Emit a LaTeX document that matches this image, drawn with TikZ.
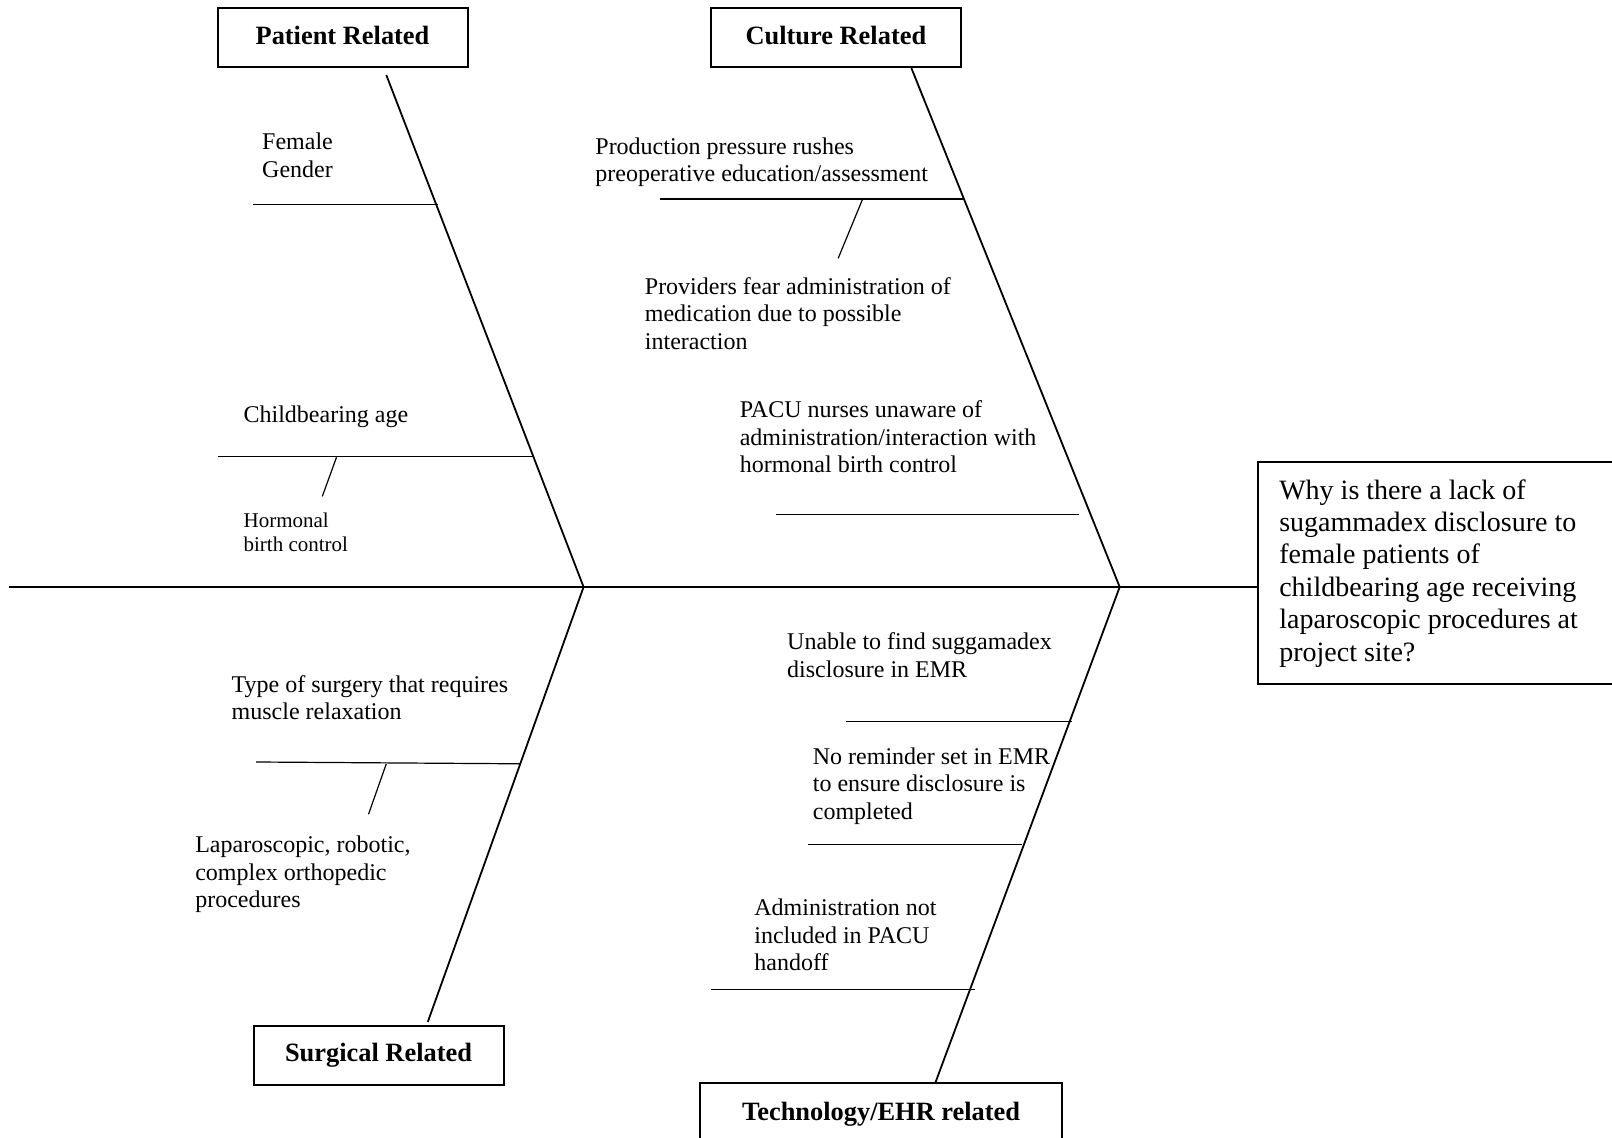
\documentclass[tikz,border=0pt]{standalone}
\usepackage{fontspec}
\setmainfont{Liberation Serif}
\tikzstyle{block} = [draw, fill=white, rectangle, line width=1pt, minimum width=125pt, minimum height=29.5pt, text height=0.7em, text depth=0.07em, font=\bfseries\fontsize{13.2}{15.2}\selectfont]
\tikzstyle{question} = [draw, fill=white, rectangle, line width=1pt, anchor=north west, inner xsep=10.5pt, inner ysep=8.7pt, font=\fontsize{14}{16.2}\selectfont]
\tikzstyle{cause} = [anchor=north west, inner sep=0pt, align=left, font=\fontsize{12}{13.8}\selectfont]
\tikzstyle{subcause} = [cause, font=\fontsize{10.5}{11.9}\selectfont]
\tikzstyle{spine} = [line width=1.15pt]
\tikzstyle{bone} = [line width=0.9pt]
\tikzstyle{rib} = [line width=0.6pt]

\begin{document}
\begin{tikzpicture}[x=0.5pt, y=-0.5pt]
    \useasboundingbox (0,0) rectangle (1612,1138);

    % category boxes and the problem
    \node [block] (patient) at (342.5,37.9) {Patient Related};
    \node [block] (culture) at (835.9,37.9) {Culture Related};
    \node [block] (surgical) at (378.5,1055.4) {Surgical Related};
    \node [block, minimum width=181.3pt, minimum height=30.3pt] (tech) at (881.1,1113.7) {Technology/EHR related};
    \node [question] (problem) at (1257.3,461) {\parbox[c][93.6pt][t]{200pt}{Why is there a lack of\\
        sugammadex disclosure to\\ female patients of\\ childbearing age receiving\\
        laparoscopic procedures at\\ project site?}};

    % spine and bones
    \coordinate (tail) at (8.7,587);
    \coordinate (pj) at (583.6,587);
    \coordinate (cj) at (1119.7,587);
    \coordinate (ptop) at (386.3,75);
    \coordinate (ctop) at (911.4,68.1);
    \coordinate (sbot) at (427.8,1021.9);
    \coordinate (tbot) at (935.1,1083.4);
    \draw [spine] (tail) -- (problem.west |- pj);
    \draw [bone] (ptop) -- (pj) -- (sbot);
    \draw [bone] (ctop) -- (cj) -- (tbot);

    % patient related
    \node [cause] (female) at (261.8,132.5) {Female\\Gender};
    \draw [rib] (253,204.7) -- (438,204.7);
    \node [cause] (childage) at (243.2,405.8) {Childbearing age};
    \draw [rib] (217.5,456.6) -- (533.8,456.6);
    \draw [rib] (336.5,457.3) -- (322.3,496.4);
    \node [subcause] (hormonal) at (243.2,512.8) {Hormonal\\birth control};

    % culture related
    \node [cause] (pressure) at (595,137) {Production pressure rushes\\preoperative education/assessment};
    \draw [rib] (660.3,199) -- (963.5,199);
    \draw [rib] (862.3,199.8) -- (838.2,258.3);
    \node [cause] (fear) at (644.5,277) {Providers fear administration of\\medication due to possible\\interaction};
    \node [cause] (pacu) at (739.4,400.5) {PACU nurses unaware of\\administration/interaction with\\hormonal birth control};
    \draw [rib] (775.7,514.7) -- (1079.4,514.7);

    % surgical related
    \node [cause] (surgtype) at (231.3,675) {Type of surgery that requires\\muscle relaxation};
    \draw [rib] (256.2,762) -- (520,763.8);
    \draw [rib] (386.3,763.8) -- (368.5,814.3);
    \node [cause] (procs) at (194.9,835.7) {Laparoscopic, robotic,\\complex orthopedic\\procedures};

    % technology related
    \node [cause] (unable) at (786.8,632.2) {Unable to find suggamadex\\disclosure in EMR};
    \draw [rib] (846.1,721.4) -- (1072.3,721.4);
    \node [cause] (reminder) at (812.5,747.2) {No reminder set in EMR\\to ensure disclosure is\\completed};
    \draw [rib] (808.2,844.6) -- (1022.1,844.6);
    \node [cause] (handoff) at (754,898.4) {Administration not\\included in PACU\\handoff};
    \draw [rib] (710.5,989.4) -- (975.4,989.4);
\end{tikzpicture}
\end{document}
